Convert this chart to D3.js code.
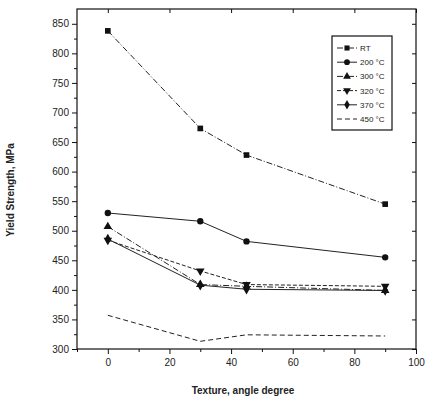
<!DOCTYPE html>
<html>
<head>
<meta charset="utf-8">
<script src="https://cdn.jsdelivr.net/npm/d3@7"></script>
<style>
  body { margin: 0; background: #fff; }
  svg { font-family: Arial, "Liberation Sans", sans-serif; }
</style>
</head>
<body>
<svg id="chart" width="430" height="405"></svg>
<script>
// data
var angles = [0, 30, 45, 90];
var seriesNames = ["RT", "200 \u00B0C", "300 \u00B0C", "320 \u00B0C", "370 \u00B0C", "450 \u00B0C"];
var rtValues = [838, 673, 628, 545];
var t200Values = [530, 516, 482, 455];
var t300Values = [507, 409, 406, 399];
var t320Values = [484, 432, 409, 406];
var t370Values = [486, 408, 401, 399];
var t450Values = [357, 313, 324, 322];
var xTicks = [0, 20, 40, 60, 80, 100];
var yTicks = [300, 350, 400, 450, 500, 550, 600, 650, 700, 750, 800, 850];

var svg = d3.select("#chart");

// plot frame (note: "top" is a reserved window global, so use prefixed names)
var plotLeft = 77, plotRight = 416, plotTop = 9, plotBottom = 349;

var x = d3.scaleLinear().domain([-10, 100]).range([plotLeft, plotRight]);
var y = d3.scaleLinear().domain([300, 875]).range([plotBottom, plotTop]);

// frame
svg.append("rect")
    .attr("x", plotLeft).attr("y", plotTop)
    .attr("width", plotRight - plotLeft).attr("height", plotBottom - plotTop)
    .attr("fill", "none").attr("stroke", "#111").attr("stroke-width", 1.2);

// axes
var yMinor = d3.range(325, 875, 50);
var xMinor = d3.range(-10, 100, 10).filter(function(d) { return d % 20 !== 0; });

var gLeft = svg.append("g").attr("transform", "translate(" + plotLeft + ",0)")
    .call(d3.axisLeft(y).tickValues(yTicks).tickSize(5).tickPadding(3));
gLeft.selectAll("text").style("font-size", "10px").attr("fill", "#222");
gLeft.append("g").call(d3.axisLeft(y).tickValues(yMinor).tickSize(3).tickFormat(""));

svg.append("g").attr("transform", "translate(" + plotRight + ",0)")
    .call(d3.axisLeft(y).tickValues(yTicks).tickSize(4).tickFormat(""));

var gBottom = svg.append("g").attr("transform", "translate(0," + plotBottom + ")")
    .call(d3.axisBottom(x).tickValues(xTicks).tickSize(5).tickPadding(5));
gBottom.selectAll("text").style("font-size", "10px").attr("fill", "#222");
gBottom.append("g").call(d3.axisBottom(x).tickValues(xMinor).tickSize(3).tickFormat(""));

svg.append("g").attr("transform", "translate(0," + plotTop + ")")
    .call(d3.axisBottom(x).tickValues(xTicks).tickSize(4).tickFormat(""));

svg.selectAll(".domain").remove();
svg.selectAll(".tick line").attr("stroke", "#111");

// axis titles
svg.append("text")
    .attr("transform", "translate(14,190) rotate(-90)")
    .attr("text-anchor", "middle")
    .style("font-size", "10px").style("font-weight", "bold")
    .attr("fill", "#222")
    .text("Yield Strength, MPa");

svg.append("text")
    .attr("x", 243).attr("y", 394)
    .attr("text-anchor", "middle")
    .style("font-size", "10px").style("font-weight", "bold")
    .attr("fill", "#222")
    .text("Texture, angle degree");

// series
var series = [
    { name: seriesNames[0], values: rtValues, symbol: d3.symbolSquare, rot: 0, dash: "6,2,1,2" },
    { name: seriesNames[1], values: t200Values, symbol: d3.symbolCircle, rot: 0, dash: null },
    { name: seriesNames[2], values: t300Values, symbol: d3.symbolTriangle, rot: 0, dash: "6,2,1,2" },
    { name: seriesNames[3], values: t320Values, symbol: d3.symbolTriangle, rot: 180, dash: "4,2" },
    { name: seriesNames[4], values: t370Values, symbol: d3.symbolDiamond, rot: 0, dash: null },
    { name: seriesNames[5], values: t450Values, symbol: null, rot: 0, dash: "5,3" }
];

var line = d3.line()
    .x(function(d) { return x(d[0]); })
    .y(function(d) { return y(d[1]); });

series.forEach(function(s) {
    var pts = angles.map(function(a, i) { return [a, s.values[i]]; });
    svg.append("path")
        .datum(pts)
        .attr("d", line)
        .attr("fill", "none")
        .attr("stroke", "#222")
        .attr("stroke-width", 1)
        .attr("stroke-dasharray", s.dash);
    if (s.symbol) {
        svg.selectAll(null)
            .data(pts)
            .enter()
            .append("path")
            .attr("d", d3.symbol().type(s.symbol).size(32))
            .attr("transform", function(d) {
                return "translate(" + x(d[0]) + "," + y(d[1]) + ") rotate(" + s.rot + ")";
            })
            .attr("fill", "#111");
    }
});

// legend
var legend = svg.append("g").attr("transform", "translate(332,36)");
legend.append("rect")
    .attr("width", 60).attr("height", 94)
    .attr("fill", "#fff").attr("stroke", "#111").attr("stroke-width", 1.2);

series.forEach(function(s, i) {
    var ly = 12 + i * 14.2;
    legend.append("line")
        .attr("x1", 5).attr("x2", 25)
        .attr("y1", ly).attr("y2", ly)
        .attr("stroke", "#222").attr("stroke-width", 1)
        .attr("stroke-dasharray", s.dash);
    if (s.symbol) {
        legend.append("path")
            .attr("d", d3.symbol().type(s.symbol).size(26))
            .attr("transform", "translate(15," + ly + ") rotate(" + s.rot + ")")
            .attr("fill", "#111");
    }
    legend.append("text")
        .attr("x", 28).attr("y", ly + 3)
        .style("font-size", "8px")
        .attr("fill", "#222")
        .text(s.name);
});
</script>
</body>
</html>
